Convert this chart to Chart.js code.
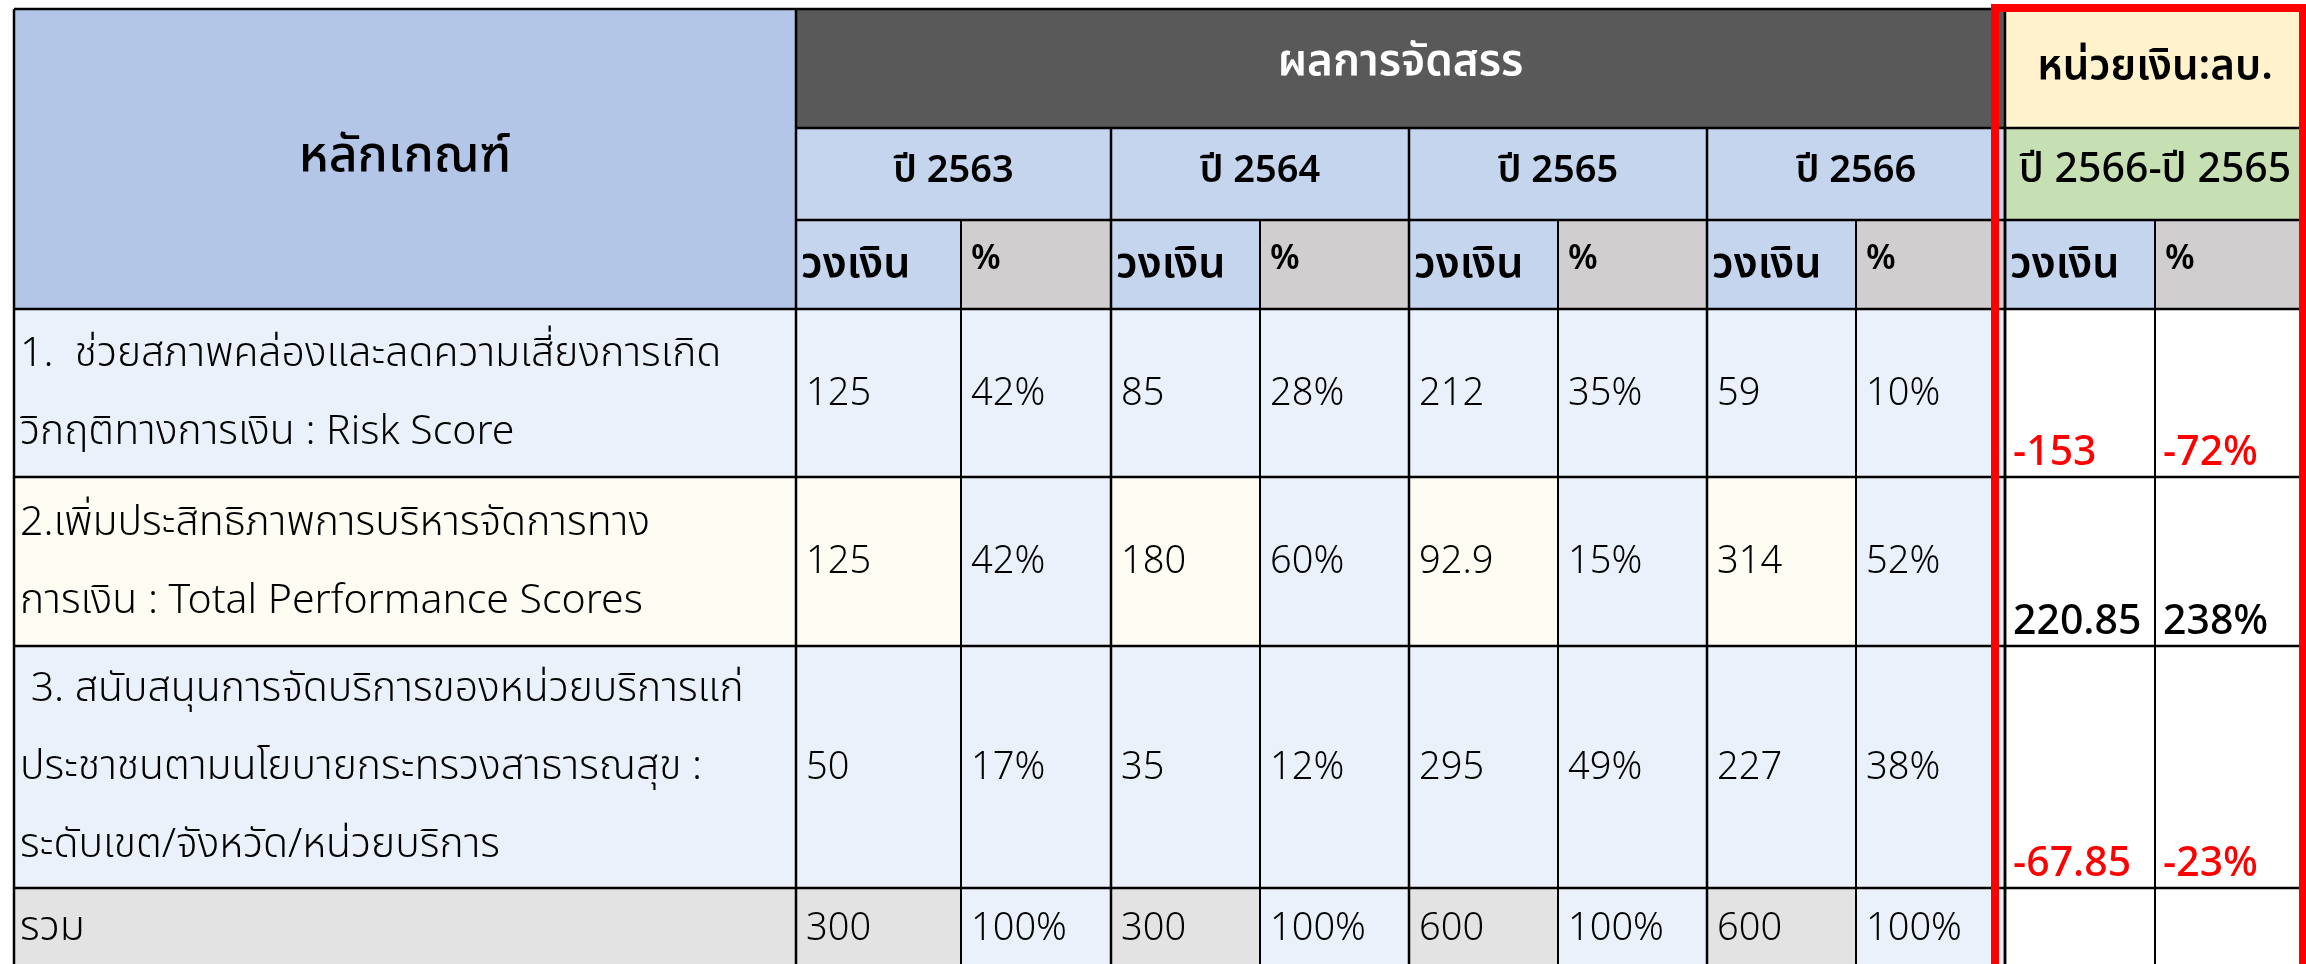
<!DOCTYPE html>
<html>
<head>
<meta charset="utf-8">
<script src="https://cdn.jsdelivr.net/npm/chart.js@4.4.0/dist/chart.umd.min.js"></script>
<style>
html, body { margin: 0; padding: 0; background: #fff; }
#caixa { width: 2306px; height: 964px; position: relative; }
</style>
</head>
<body>
<div id="caixa"><canvas id="tabela"></canvas></div>
<script>
// dados da tabela
var criterios = [
    ['1.  ช่วยสภาพคล่องและลดความเสี่ยงการเกิด', 'วิกฤติทางการเงิน : Risk Score'],
    ['2.เพิ่มประสิทธิภาพการบริหารจัดการทาง', 'การเงิน : Total Performance Scores'],
    [' 3. สนับสนุนการจัดบริการของหน่วยบริการแก่', 'ประชาชนตามนโยบายกระทรวงสาธารณสุข :', 'ระดับเขต/จังหวัด/หน่วยบริการ'],
    ['รวม']
]
var anos = ['ปี 2563', 'ปี 2564', 'ปี 2565', 'ปี 2566']
var valor2563 = [125, 125, 50, 300]
var pct2563 = [42, 42, 17, 100]
var valor2564 = [85, 180, 35, 300]
var pct2564 = [28, 60, 12, 100]
var valor2565 = [212, 92.9, 295, 600]
var pct2565 = [35, 15, 49, 100]
var valor2566 = [59, 314, 227, 600]
var pct2566 = [10, 52, 38, 100]
var difValor = [-153, 220.85, -67.85, null]
var difPct = [-72, 238, -23, null]

var titulo = 'หลักเกณฑ์'
var tituloGrupo = 'ผลการจัดสรร'
var unidade = 'หน่วยเงิน:ลบ.'
var tituloDif = 'ปี 2566-ปี 2565'
var subValor = 'วงเงิน'
var subPct = '%'

// layout (unidades da escala)
var colunas = [14, 796, 961, 1111, 1260, 1409, 1558, 1707, 1856, 2005, 2155, 2305]
var linhas = [9, 128, 220, 309, 477, 646, 888, 975]

var FONTE = '"Noto Sans Thai", "Noto Sans Thai UI", "Noto Sans", "DejaVu Sans", sans-serif'

var valores = [valor2563, valor2564, valor2565, valor2566]
var pcts = [pct2563, pct2564, pct2565, pct2566]

// pontos invisiveis, um por celula numerica
var pontos = []
for (var a = 0; a < 4; a++) {
    for (var r = 0; r < 4; r++) {
        pontos.push({ x: (colunas[1 + a * 2] + colunas[2 + a * 2]) / 2, y: (linhas[3 + r] + linhas[4 + r]) / 2 })
    }
}

var desenhaTabela = {
    id: 'desenhaTabela',
    afterDraw: function (chart) {
        var ctx = chart.ctx
        var sx = chart.scales.x
        var sy = chart.scales.y
        function X(c) { return sx.getPixelForValue(colunas[c]) }
        function Y(r) { return sy.getPixelForValue(linhas[r]) }

        function celula(c0, c1, r0, r1, cor) {
            ctx.fillStyle = cor
            ctx.fillRect(X(c0), Y(r0), X(c1) - X(c0), Y(r1) - Y(r0))
        }
        function texto(s, x, y, fonte, cor, alinha) {
            ctx.font = fonte
            ctx.fillStyle = cor || '#000'
            ctx.textAlign = alinha || 'left'
            ctx.textBaseline = 'middle'
            ctx.fillText(s, x, y)
        }
        function fmt(v) { return String(v) }
        function fmtP(v) { return v + '%' }

        var azulClaro = '#EAF1FA'
        var creme = '#FFFCF3'
        var cinza = '#E3E3E3'

        ctx.save()
        // cabecalho
        celula(0, 1, 0, 3, '#B4C6E7')
        celula(1, 9, 0, 1, '#595959')
        celula(9, 11, 0, 1, '#FFF2CC')
        for (var a = 0; a < 4; a++) {
            celula(1 + a * 2, 3 + a * 2, 1, 2, '#C6D5EE')
        }
        celula(9, 11, 1, 2, '#C6E0B4')
        for (var c = 1; c < 11; c += 2) {
            celula(c, c + 1, 2, 3, '#C6D5EE')
            celula(c + 1, c + 2, 2, 3, '#D0CECE')
        }
        // linhas de dados
        var fundoLabel = [azulClaro, creme, azulClaro, cinza]
        for (var r = 0; r < 4; r++) {
            celula(0, 1, 3 + r, 4 + r, fundoLabel[r])
            for (var c = 1; c < 9; c += 2) {
                celula(c, c + 1, 3 + r, 4 + r, fundoLabel[r])
                celula(c + 1, c + 2, 3 + r, 4 + r, azulClaro)
            }
            celula(9, 11, 3 + r, 4 + r, '#FFFFFF')
        }

        // grade
        ctx.strokeStyle = '#000'
        ctx.lineWidth = 2.5
        function hline(r, c0, c1) {
            ctx.beginPath(); ctx.moveTo(X(c0), Y(r)); ctx.lineTo(X(c1), Y(r)); ctx.stroke()
        }
        function vline(c, r0, r1) {
            ctx.beginPath(); ctx.moveTo(X(c), Y(r0)); ctx.lineTo(X(c), Y(r1)); ctx.stroke()
        }
        hline(0, 0, 11)
        hline(1, 1, 11)
        hline(2, 1, 11)
        for (var r = 3; r < 8; r++) hline(r, 0, 11)
        vline(0, 0, 7); vline(1, 0, 7); vline(9, 0, 7); vline(11, 0, 7)
        for (var c = 3; c < 11; c += 2) vline(c, 1, 7)
        ctx.lineWidth = 2
        for (var c = 2; c < 11; c += 2) vline(c, 2, 7)

        // textos do cabecalho
        var cx = function (c0, c1) { return (X(c0) + X(c1)) / 2 }
        var cy = function (r0, r1) { return (Y(r0) + Y(r1)) / 2 }
        texto(titulo, cx(0, 1), cy(0, 3) + 2, '500 50px ' + FONTE, '#000', 'center')
        texto(tituloGrupo, cx(1, 9), cy(0, 1) - 2, '600 44px ' + FONTE, '#fff', 'center')
        texto(unidade, cx(9, 11), cy(0, 1) + 2, '600 42px ' + FONTE, '#000', 'center')
        for (var a = 0; a < 4; a++) {
            texto(anos[a], cx(1 + a * 2, 3 + a * 2), cy(1, 2), '600 38px ' + FONTE, '#000', 'center')
        }
        texto(tituloDif, cx(9, 11), cy(1, 2), '500 41px ' + FONTE, '#000', 'center')
        for (var c = 1; c < 11; c += 2) {
            texto(subValor, X(c) + 5, cy(2, 3) + 4, '600 43px ' + FONTE, '#000', 'left')
            texto(subPct, X(c + 1) + 10, cy(2, 3) - 2, '600 34px ' + FONTE, '#000', 'left')
        }

        // textos das linhas
        var passo = 78
        for (var r = 0; r < 4; r++) {
            var meio = cy(3 + r, 4 + r) + 4
            if (r == 3) meio = Y(6) + 44
            var n = criterios[r].length
            for (var i = 0; i < n; i++) {
                texto(criterios[r][i], X(0) + 6, meio + (i - (n - 1) / 2) * passo, '300 41px ' + FONTE, '#000', 'left')
            }
            for (var a = 0; a < 4; a++) {
                texto(fmt(valores[a][r]), X(1 + a * 2) + 10, meio, '300 38px ' + FONTE, '#000', 'left')
                texto(fmtP(pcts[a][r]), X(2 + a * 2) + 10, meio, '300 38px ' + FONTE, '#000', 'left')
            }
            if (difValor[r] != null) {
                var cor = difValor[r] < 0 ? '#FF0000' : '#000'
                var base = Y(4 + r) - 20
                texto(fmt(difValor[r]), X(9) + 8, base, '500 41px ' + FONTE, cor, 'left')
                texto(fmtP(difPct[r]), X(10) + 8, base, '500 41px ' + FONTE, cor, 'left')
            }
        }

        // moldura vermelha
        ctx.fillStyle = '#FF0000'
        ctx.fillRect(1991, 4, 2306 - 1991, 8)
        ctx.fillRect(1991, 4, 8, 964)
        ctx.fillRect(2299, 4, 7, 964)
        ctx.restore()
    }
}

var grafico = new Chart(document.getElementById('tabela'), {
    type: 'scatter',
    data: {
        datasets: [{
            label: 'celulas',
            data: pontos,
            pointRadius: 0,
            showLine: false
        }]
    },
    options: {
        responsive: true,
        maintainAspectRatio: false,
        animation: false,
        devicePixelRatio: 1,
        layout: { padding: 0 },
        events: [],
        plugins: { legend: { display: false }, tooltip: { enabled: false } },
        scales: {
            x: { type: 'linear', min: 0, max: 2306, display: false },
            y: { type: 'linear', min: 0, max: 964, reverse: true, display: false }
        }
    },
    plugins: [desenhaTabela]
})
</script>
</body>
</html>
